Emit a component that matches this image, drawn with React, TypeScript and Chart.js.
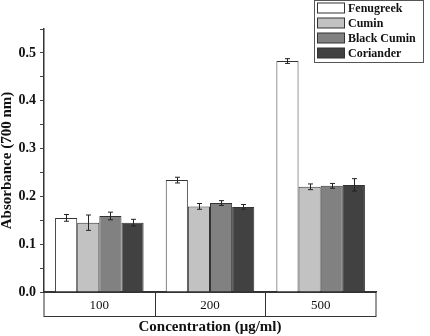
import React, { useEffect, useRef } from "react";
import Chart from "chart.js/auto";

const categories = ["100", "200", "500"];
const seriesNames = ["Fenugreek", "Cumin", "Black Cumin", "Coriander"];
const fenugreek = [0.155, 0.234, 0.483];
const fenugreekErr = [0.007, 0.006, 0.005];
const cumin = [0.145, 0.179, 0.22];
const cuminErr = [0.016, 0.006, 0.006];
const blackCumin = [0.159, 0.186, 0.222];
const blackCuminErr = [0.008, 0.005, 0.005];
const coriander = [0.145, 0.178, 0.224];
const corianderErr = [0.007, 0.005, 0.013];
const yMin = 0;
const yMax = 0.55;
const yStep = 0.05;
const xTitle = "Concentration (μg/ml)";
const yTitle = "Absorbance (700 nm)";

const fills = ["#ffffff", "#c2c2c2", "#818181", "#414141"];
const FONT = "'Liberation Serif', 'Times New Roman', serif";

const errorBars = {
  id: "errorBars",
  afterDatasetsDraw(chart: any) {
    const ctx = chart.ctx;
    const y = chart.scales.y;
    ctx.save();
    ctx.strokeStyle = "#222";
    ctx.lineWidth = 1;
    chart.data.datasets.forEach((ds: any, di: number) => {
      const meta = chart.getDatasetMeta(di);
      meta.data.forEach((bar: any, i: number) => {
        const v = ds.data[i];
        const e = ds.errors[i];
        const x = Math.round(bar.x) + 0.5;
        const y1 = y.getPixelForValue(v + e);
        const y2 = y.getPixelForValue(v - e);
        ctx.beginPath();
        ctx.moveTo(x, y1);
        ctx.lineTo(x, y2);
        ctx.moveTo(x - 2.5, y1);
        ctx.lineTo(x + 2.5, y1);
        ctx.moveTo(x - 2.5, y2);
        ctx.lineTo(x + 2.5, y2);
        ctx.stroke();
      });
    });
    ctx.restore();
  },
};

const categoryBox = {
  id: "categoryBox",
  afterDraw(chart: any) {
    const ctx = chart.ctx;
    const a = chart.chartArea;
    const xs = chart.scales.x;
    const top = a.bottom + 0.5;
    const h = 24;
    ctx.save();
    ctx.strokeStyle = "#333";
    ctx.lineWidth = 1;
    ctx.strokeRect(a.left, top, a.right - a.left, h);
    for (let i = 0; i < categories.length - 1; i++) {
      const px = Math.round((xs.getPixelForValue(i) + xs.getPixelForValue(i + 1)) / 2) + 0.5;
      ctx.beginPath();
      ctx.moveTo(px, top);
      ctx.lineTo(px, top + h);
      ctx.stroke();
    }
    ctx.restore();
  },
};

const boxLegend = {
  id: "boxLegend",
  afterDraw(chart: any) {
    const ctx = chart.ctx;
    const left = 314;
    const top = 0.5;
    const w = 109;
    const h = 62;
    ctx.save();
    ctx.fillStyle = "#fff";
    ctx.fillRect(left, top, w, h);
    ctx.strokeStyle = "#555";
    ctx.lineWidth = 1;
    ctx.strokeRect(left + 0.5, top, w, h);
    ctx.font = `bold 12px ${FONT}`;
    ctx.textBaseline = "middle";
    chart.data.datasets.forEach((ds: any, i: number) => {
      const cy = 8 + i * 15;
      ctx.fillStyle = ds.backgroundColor;
      ctx.fillRect(317.5, cy - 5, 27, 10);
      ctx.strokeStyle = "#333";
      ctx.strokeRect(317.5, cy - 5, 27, 10);
      ctx.fillStyle = "#111";
      ctx.fillText(ds.label, 348, cy + 0.5);
    });
    ctx.restore();
  },
};

export default function App() {
  const ref = useRef<HTMLCanvasElement>(null);
  useEffect(() => {
    document.body.style.margin = "0";
    const values = [fenugreek, cumin, blackCumin, coriander];
    const errs = [fenugreekErr, cuminErr, blackCuminErr, corianderErr];
    const chart = new Chart(ref.current as HTMLCanvasElement, {
      type: "bar",
      data: {
        labels: categories,
        datasets: seriesNames.map((name, i) => ({
          label: name,
          data: values[i],
          errors: errs[i],
          backgroundColor: fills[i],
          borderColor: "#333",
          borderWidth: 1,
          categoryPercentage: 0.8,
          barPercentage: 1.0,
        })) as any,
      },
      options: {
        responsive: false,
        animation: false,
        layout: { padding: { top: 29, right: 54, left: 0, bottom: 0 } },
        plugins: { legend: { display: false }, tooltip: { enabled: false } },
        scales: {
          x: {
            afterFit: (s: any) => {
              s.height = 44;
            },
            grid: { display: true, drawOnChartArea: false, drawTicks: false, color: "transparent" },
            border: { display: true, color: "#333", width: 1.5 },
            ticks: { color: "#111", padding: 6, font: { family: FONT, size: 13 } },
            title: {
              display: true,
              text: xTitle,
              color: "#111",
              font: { family: FONT, size: 15, weight: "bold" },
              padding: { top: 0, bottom: 0 },
            },
          },
          y: {
            min: yMin,
            max: yMax,
            afterFit: (s: any) => {
              s.width = 44;
            },
            grid: { drawOnChartArea: false, drawTicks: true, tickLength: 4, color: "#444" },
            border: { display: true, color: "#333", width: 1.5 },
            ticks: {
              stepSize: yStep,
              padding: 4,
              color: "#111",
              font: { family: FONT, size: 14, weight: "bold" },
              callback: (v: any) => {
                const n = Math.round(Number(v) * 100);
                return n % 10 === 0 ? (n / 100).toFixed(1) : "";
              },
            },
            title: {
              display: true,
              text: yTitle,
              color: "#111",
              font: { family: FONT, size: 15, weight: "bold", lineHeight: 1 },
              padding: { top: 0, bottom: 0 },
            },
          },
        },
      } as any,
      plugins: [errorBars, categoryBox, boxLegend],
    });
    return () => chart.destroy();
  }, []);
  return (
    <div style={{ position: "fixed", left: 0, top: 0, width: 430, height: 336, background: "#fff" }}>
      <canvas ref={ref} width={430} height={336} />
    </div>
  );
}
